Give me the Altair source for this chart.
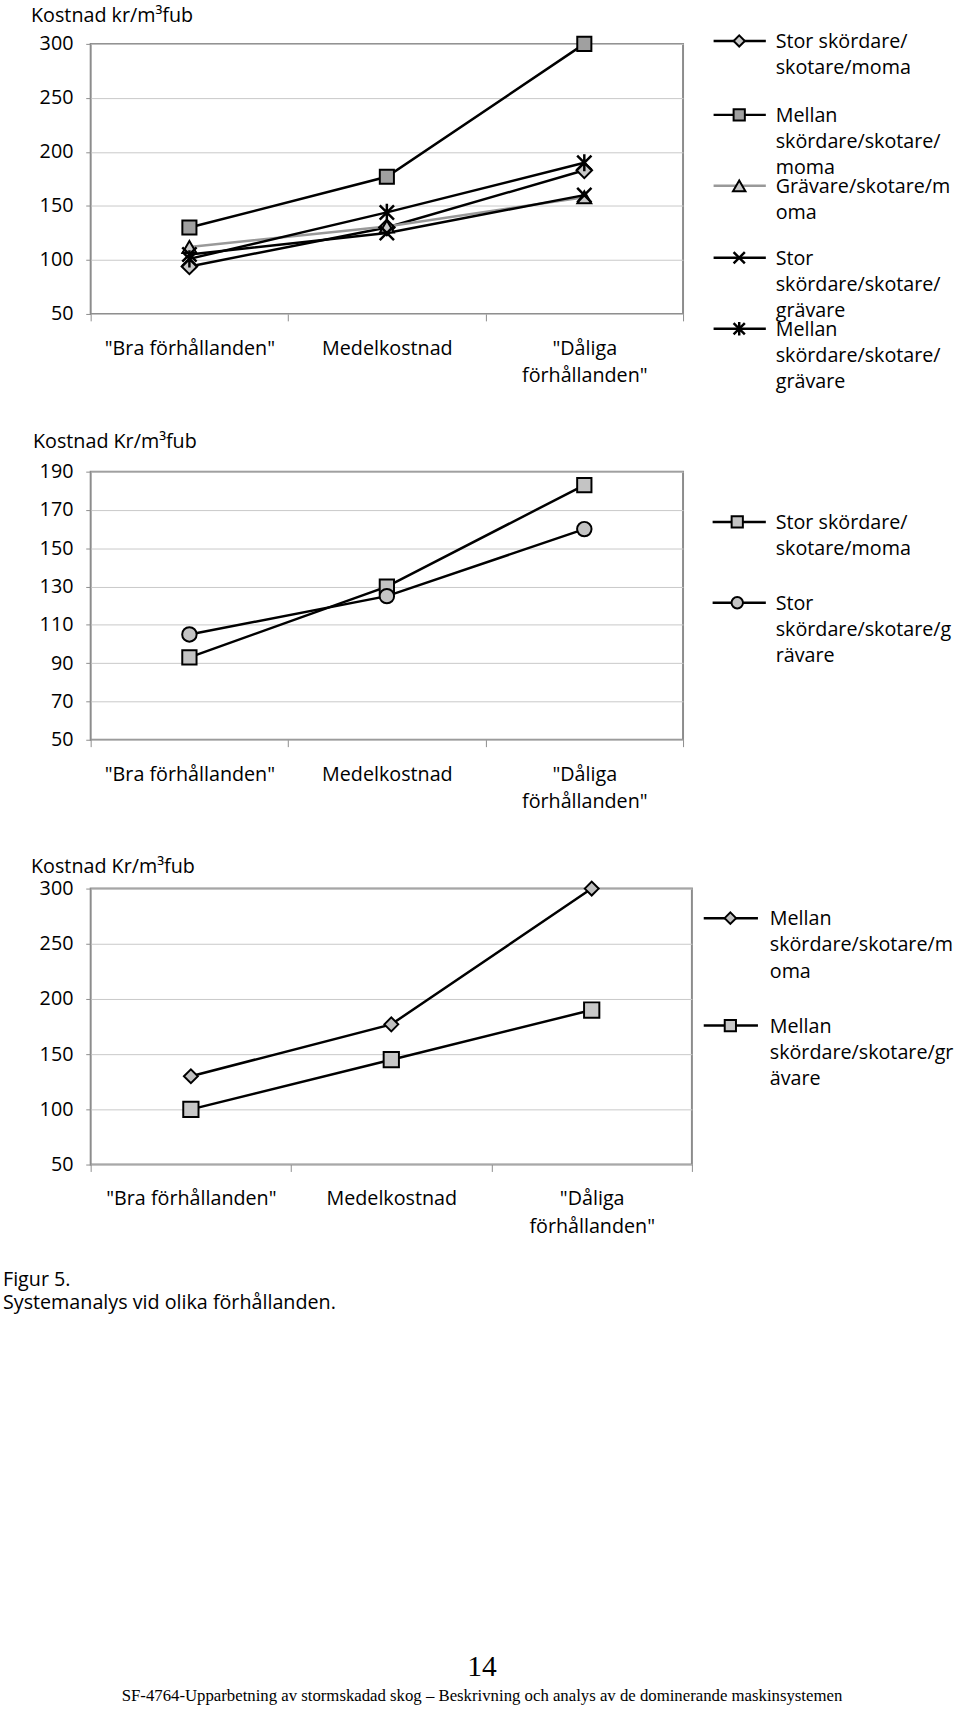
import altair as alt
import pandas as pd

SANS = "Open Sans"
SERIF = "Liberation Serif"

# ---------------- data ----------------
CATEGORIES = ['"Bra förhållanden"', "Medelkostnad", '"Dåliga förhållanden"']

P1_TITLE = "Kostnad kr/m³fub"
P1_SERIES = [
    "Stor skördare/skotare/moma",
    "Mellan skördare/skotare/moma",
    "Grävare/skotare/moma",
    "Stor skördare/skotare/grävare",
    "Mellan skördare/skotare/grävare",
]
P1_LEGEND = [
    "Stor skördare/\nskotare/moma",
    "Mellan\nskördare/skotare/\nmoma",
    "Grävare/skotare/m\noma",
    "Stor\nskördare/skotare/\ngrävare",
    "Mellan\nskördare/skotare/\ngrävare",
]
P1_STOR_MOMA = [94, 130, 183]
P1_MELLAN_MOMA = [130, 177, 300]
P1_GRAVARE_MOMA = [112, 131, 158]
P1_STOR_GRAVARE = [105, 125, 160]
P1_MELLAN_GRAVARE = [101, 144, 190]
P1_TICKS = [50, 100, 150, 200, 250, 300]

P2_TITLE = "Kostnad Kr/m³fub"
P2_SERIES = ["Stor skördare/skotare/moma", "Stor skördare/skotare/grävare"]
P2_LEGEND = ["Stor skördare/\nskotare/moma", "Stor\nskördare/skotare/g\nrävare"]
P2_STOR_MOMA = [93, 130, 183]
P2_STOR_GRAVARE = [105, 125, 160]
P2_TICKS = [50, 70, 90, 110, 130, 150, 170, 190]

P3_TITLE = "Kostnad Kr/m³fub"
P3_SERIES = ["Mellan skördare/skotare/moma", "Mellan skördare/skotare/grävare"]
P3_LEGEND = ["Mellan\nskördare/skotare/m\noma", "Mellan\nskördare/skotare/gr\nävare"]
P3_MELLAN_MOMA = [130, 177, 300]
P3_MELLAN_GRAVARE = [100, 145, 190]
P3_TICKS = [50, 100, 150, 200, 250, 300]

CAPTION = ["Figur 5.", "Systemanalys vid olika förhållanden."]
PAGE_NUMBER = ["14"]
RUNNING_FOOTER = ["SF-4764-Upparbetning av stormskadad skog – Beskrivning och analys av de dominerande maskinsystemen"]

# ---------------- styles ----------------
FRAME = "#8c8c8c"
GRID = "#c8c8c8"
X_PATH = "M-1,-1L1,1M-1,1L1,-1"
STAR_PATH = "M-1,-1L1,1M-1,1L1,-1M0,-1.2L0,1.2"


def st(shape, fill, size, lsize, line="black"):
    return dict(shape=shape, fill=fill, size=size, lsize=lsize, line=line)


P1_STYLES = [
    st("diamond", "#c8c8c8", 250, 130),
    st("square", "#a0a0a0", 205, 130),
    st("triangle-up", "#c8c8c8", 200, 160, line="#999999"),
    st(X_PATH, None, 210, 130),
    st(STAR_PATH, None, 210, 130),
]
P2_STYLES = [
    st("square", "#c4c4c4", 210, 130),
    st("circle", "#c4c4c4", 215, 135),
]
P3_STYLES = [
    st("diamond", "#c0c0c0", 200, 135),
    st("square", "#c8c8c8", 240, 130),
]

LABEL_EXPR = ("isString(datum.label) && indexof(datum.label, 'Dåliga') > 0"
              " ? split(datum.label, ' ') : datum.label")


def point_props(s, size):
    if s["fill"] is None:
        return dict(shape=s["shape"], filled=False, stroke="black", strokeWidth=2.5,
                    size=size, opacity=1)
    return dict(shape=s["shape"], filled=True, fill=s["fill"], stroke="black",
                strokeWidth=2, size=size, opacity=1)


def panel(title, series, legend, values, styles, ticks, width, height,
          title_xy, leg_line, leg_sym, leg_text, leg_ys, extra=()):
    x_enc = alt.X(
        "cat:N", sort=CATEGORIES, bandPosition=0.5,
        scale=alt.Scale(type="band", paddingInner=0, paddingOuter=0),
        axis=alt.Axis(title=None, labelAngle=0, tickBand="extent", labelExpr=LABEL_EXPR,
                      labelFont=SANS, labelFontSize=20, labelColor="#000000",
                      labelPadding=18, labelLineHeight=28, tickSize=7, tickColor=FRAME,
                      domain=False, grid=False),
    )
    y_enc = alt.Y(
        "value:Q",
        scale=alt.Scale(domain=[ticks[0], ticks[-1]], nice=False, zero=False),
        axis=alt.Axis(values=ticks, title=title, titleAngle=0, titleAlign="left",
                      titleBaseline="middle", titleX=title_xy[0], titleY=title_xy[1],
                      titleFont=SANS, titleFontSize=20, titleFontWeight="normal",
                      titleColor="#000000", labelFont=SANS, labelFontSize=20,
                      labelColor="#000000", labelPadding=13, tickSize=5, tickColor=FRAME,
                      domain=False, grid=True, gridColor=GRID, gridWidth=1),
    )
    lines, points, leg = [], [], []
    for name, lab, vals, s, ly in zip(series, legend, values, styles, leg_ys):
        df = pd.DataFrame({"cat": CATEGORIES, "value": vals, "series": name})
        lines.append(alt.Chart(df).mark_line(color=s["line"], strokeWidth=2.5)
                     .encode(x=x_enc, y=y_enc))
        points.append(alt.Chart(df).mark_point(**point_props(s, s["size"]))
                      .encode(x=x_enc, y=y_enc))
        ldf = pd.DataFrame({"label": [lab], "series": [name]})
        leg.append(alt.Chart(ldf).mark_rule(color=s["line"], strokeWidth=2.5)
                   .encode(x=alt.value(leg_line[0]), x2=alt.value(leg_line[1]), y=alt.value(ly)))
        leg.append(alt.Chart(ldf).mark_point(**point_props(s, s["lsize"]))
                   .encode(x=alt.value(leg_sym), y=alt.value(ly)))
        leg.append(alt.Chart(ldf).mark_text(align="left", baseline="top", font=SANS,
                                            fontSize=20, lineBreak="\n", lineHeight=26.5,
                                            color="#000000")
                   .encode(text="label:N", x=alt.value(leg_text), y=alt.value(ly - 8.7)))
    return alt.layer(*lines, *points, *leg, *extra).properties(
        width=width, height=height,
        view=alt.ViewBackground(stroke=FRAME, strokeWidth=2),
    )


def text_layer(texts, x, y, font, size, align="left"):
    df = pd.DataFrame({"t": texts})
    return alt.Chart(df).mark_text(align=align, baseline="middle", font=font,
                                   fontSize=size, color="#000000").encode(
        text="t:N", x=alt.value(x), y=alt.value(y))


def spacer(h):
    return alt.Chart(pd.DataFrame({"s": [0]})).mark_point(opacity=0, size=4).encode(
        x=alt.value(5), y=alt.value(h / 2)
    ).properties(width=10, height=h, view=alt.ViewBackground(strokeOpacity=0))


p1 = panel(P1_TITLE, P1_SERIES, P1_LEGEND,
           [P1_STOR_MOMA, P1_MELLAN_MOMA, P1_GRAVARE_MOMA, P1_STOR_GRAVARE, P1_MELLAN_GRAVARE],
           P1_STYLES, P1_TICKS, 601, 274, (-61, -29),
           (632, 685), 658, 695, [-3, 72, 144, 217, 289])

p2 = panel(P2_TITLE, P2_SERIES, P2_LEGEND, [P2_STOR_MOMA, P2_STOR_GRAVARE],
           P2_STYLES, P2_TICKS, 601, 272, (-59, -31),
           (631, 685), 656, 695, [51, 133])

footer = [
    text_layer(CAPTION[:1], -89, 397, SANS, 20),
    text_layer(CAPTION[1:], -89, 421, SANS, 20),
    text_layer(PAGE_NUMBER, 397, 790, SERIF, 30, align="center"),
    text_layer(RUNNING_FOOTER, 397, 819, SERIF, 17, align="center"),
]

p3 = panel(P3_TITLE, P3_SERIES, P3_LEGEND, [P3_MELLAN_MOMA, P3_MELLAN_GRAVARE],
           P3_STYLES, P3_TICKS, 610, 280, (-61, -22),
           (622, 677), 649, 689, [30, 139], extra=footer)

chart = alt.vconcat(p1, spacer(37), p2, spacer(44), p3, spacing=0).properties(
    padding={"left": 2, "top": -8, "right": 5, "bottom": 2},
    background="white",
).configure(font=SANS)

chart.save("out.html", embed_options={"renderer": "svg", "actions": False})
